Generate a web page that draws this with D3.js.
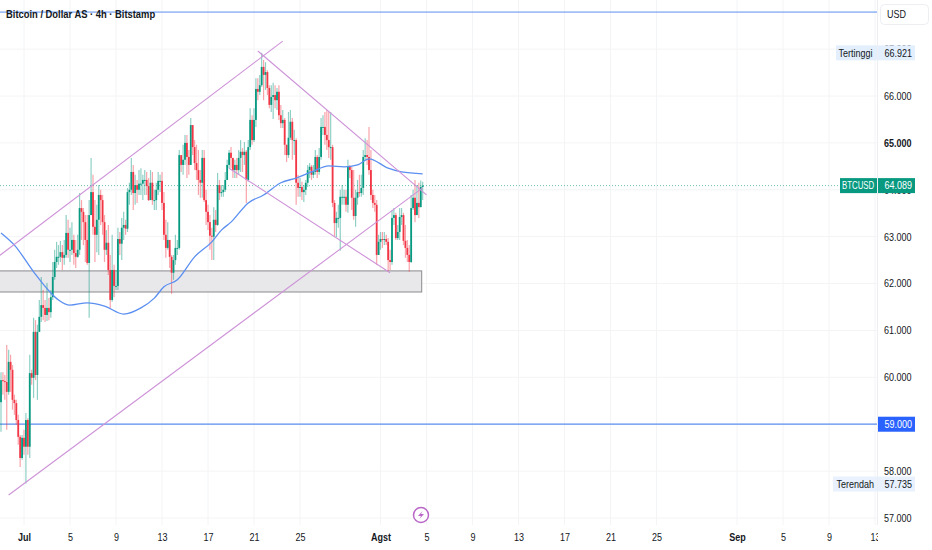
<!DOCTYPE html>
<html><head><meta charset="utf-8">
<script src="https://cdn.jsdelivr.net/npm/d3@7"></script>
<style>
html,body{margin:0;padding:0;background:#fff;overflow:hidden}
text{font-family:"Liberation Sans",Arial,sans-serif;fill:#131722}
</style></head><body><svg id="c" width="932" height="550"></svg>
<script>
const title = "Bitcoin / Dollar AS · 4h · Bitstamp";
const firstOpen = 59.47;
const closes = [59.94,59.92,59.90,59.69,60.33,60.16,59.52,59.45,59.09,58.73,58.28,58.71,58.52,59.09,58.52,60.09,59.99,60.97,60.05,60.97,
61.29,61.54,61.48,61.33,61.48,61.39,61.71,62.14,62.46,62.57,62.57,62.67,62.55,62.61,63.08,62.72,62.72,62.93,62.65,62.57,
62.72,63.61,63.53,63.31,62.93,62.44,63.46,63.95,63.21,63.04,63.36,63.89,63.78,63.31,62.72,62.87,62.29,61.65,62.29,61.95,
61.95,62.95,62.85,63.19,63.25,63.17,63.95,64.00,64.38,63.93,64.10,64.00,64.13,64.13,64.21,64.21,64.08,63.78,64.15,63.78,
63.78,64.00,64.19,64.19,63.72,63.04,62.76,62.93,62.57,62.23,62.50,62.76,62.76,64.74,64.53,64.64,65.00,64.70,64.53,65.38,
64.91,64.57,64.42,64.21,64.15,64.68,63.78,63.53,63.31,63.02,63.00,63.36,63.25,64.10,63.93,63.95,64.00,64.21,64.53,64.79,
64.68,64.42,64.53,64.42,64.68,64.81,64.74,64.81,64.21,64.91,65.49,65.06,65.49,66.15,66.09,66.23,66.62,66.45,66.51,66.17,
65.81,65.98,66.02,65.91,66.09,65.59,65.42,65.49,64.96,64.74,65.11,65.45,65.06,65.06,64.15,64.04,64.06,63.95,64.00,64.15,
64.42,64.49,64.32,64.38,64.70,64.38,64.70,65.34,65.34,65.17,65.06,64.91,64.91,63.72,63.29,63.40,63.40,63.85,63.85,63.85,
63.68,64.49,64.42,63.83,63.44,63.83,63.95,63.93,64.04,64.70,64.74,64.70,64.42,63.89,63.72,63.68,62.61,62.89,62.95,62.93,
62.95,62.89,62.50,62.46,63.40,63.46,62.97,63.10,63.42,63.46,62.91,62.76,62.61,62.46,63.61,63.83,63.46,63.72,63.63,64.06,64.089];
const highs = [60.11,60.11,60.05,60.69,60.59,60.48,60.26,59.63,59.52,59.20,58.77,58.77,58.88,59.24,59.13,60.48,60.16,61.27,61.22,61.12,
61.65,62.14,61.86,61.65,62.01,61.69,61.86,62.46,62.72,62.89,62.82,62.91,62.82,62.93,63.46,63.36,63.19,63.31,63.04,62.93,
63.04,63.93,63.78,63.61,63.46,63.46,63.78,64.68,64.32,63.78,63.68,64.10,64.00,63.89,63.46,63.14,63.25,62.61,63.04,62.40,
62.29,63.19,63.10,63.40,63.53,63.36,64.04,64.15,64.68,64.53,64.32,64.21,64.42,64.46,64.32,64.42,64.38,64.25,64.42,64.38,
64.00,64.15,64.38,64.32,64.38,63.95,63.36,63.31,62.82,62.61,62.61,63.04,62.93,64.85,64.70,64.96,65.17,65.17,64.85,65.53,
65.38,65.06,64.96,64.85,64.42,64.85,64.85,64.00,63.68,63.46,63.19,63.63,63.57,64.36,64.21,64.10,64.10,64.38,64.64,64.85,
64.91,64.64,64.64,64.68,64.85,65.06,64.89,65.02,64.85,65.06,65.74,65.59,65.74,66.38,66.38,66.45,66.921,66.77,66.72,66.55,
66.23,66.23,66.28,66.23,66.17,66.23,65.81,65.70,65.53,64.96,65.66,65.70,65.53,65.28,65.10,64.32,64.25,64.17,64.10,64.21,
64.53,64.57,64.53,64.53,64.85,64.74,64.89,65.53,65.59,65.66,65.70,65.66,65.66,64.96,63.78,63.53,63.68,64.00,64.10,64.00,
64.00,64.64,64.53,64.49,64.42,64.00,64.21,64.32,64.32,64.85,65.10,65.06,65.34,64.85,64.00,63.89,63.78,63.04,63.10,63.10,
63.10,63.04,62.97,62.72,63.57,63.61,63.51,63.25,63.61,63.61,63.51,63.25,62.93,62.82,63.89,64.00,64.21,64.10,64.15,64.20,64.17];
const lows = [58.84,59.63,59.52,58.88,59.63,59.69,59.31,59.20,58.99,58.56,58.09,58.24,58.35,57.735,58.35,58.28,59.84,59.56,59.94,59.52,
60.97,61.18,61.22,61.18,61.20,61.22,61.27,61.65,62.08,62.33,62.40,62.46,62.29,62.40,62.55,62.55,62.46,62.61,62.40,62.33,
62.55,62.61,62.93,62.82,62.46,62.40,61.27,63.46,63.04,62.46,62.67,62.61,63.25,63.04,62.46,62.61,62.18,61.48,61.61,61.71,
61.86,61.86,62.61,62.50,62.93,63.04,63.10,63.68,63.89,63.57,63.68,63.72,63.89,63.89,63.78,63.89,63.89,63.76,64.00,63.68,
63.57,63.57,63.89,63.95,63.57,62.93,62.55,62.72,62.33,61.78,62.08,62.40,62.61,62.72,64.38,64.32,64.53,64.25,64.32,64.53,
64.74,64.42,64.21,63.89,63.83,63.83,63.74,63.25,63.14,62.72,62.50,62.50,63.10,63.23,63.78,63.85,63.85,63.95,64.21,64.46,
64.46,64.25,64.25,64.25,64.32,64.38,64.38,64.53,63.72,64.17,64.85,64.96,65.02,65.34,65.91,66.02,66.19,65.91,66.13,66.02,
65.74,65.66,65.51,65.74,65.70,65.49,65.32,65.32,64.74,64.59,64.68,65.06,64.64,64.74,63.68,63.85,63.85,63.78,63.74,63.89,
64.06,64.25,64.21,64.25,64.32,64.25,64.32,64.64,65.17,64.96,64.85,64.68,64.64,63.63,62.99,62.99,63.19,62.70,63.68,63.68,
63.53,63.51,64.25,63.57,63.36,63.21,63.68,63.85,63.85,63.89,64.64,64.53,64.32,63.78,63.61,63.53,62.40,62.61,62.72,62.76,
62.82,62.82,62.25,62.29,62.40,63.25,62.93,62.93,62.93,63.25,62.82,62.55,62.46,62.25,62.44,63.57,63.31,63.46,63.40,63.63,63.78];
const maBars = [0,7,17,26,30,36,45,54,64,73,80,85,92,101,110,115,120,129,137,146,154,162,171,179,186,192,202,209,220];
const maValues = [63.08,62.82,62.25,61.80,61.65,61.54,61.59,61.52,61.35,61.48,61.69,61.93,62.08,62.57,62.89,63.14,63.31,63.72,63.89,64.15,64.25,64.38,64.51,64.49,64.53,64.66,64.46,64.38,64.34];
const channelUp = [[-1,62.59],[147,67.17]];
const channelLow = [[4,57.49],[220,64.04]];
const fallUp = [[134,66.96],[222,63.89]];
const fallLow = [[119,64.46],[203,62.23]];
const zone = {top:62.27,bottom:61.82,endBar:219.5};
const topLevel = 67.79, level = 59.0, lastPrice = 64.089;
const priceTicks = [57,58,59,60,61,62,63,64,65,66,67];
const dateTicks = ["2024-07-01","2024-07-05","2024-07-09","2024-07-13","2024-07-17","2024-07-21","2024-07-25","2024-08-01","2024-08-05","2024-08-09","2024-08-13","2024-08-17","2024-08-21","2024-08-25","2024-09-01","2024-09-05","2024-09-09","2024-09-13"];
const dateLabels = ["Jul","5","9","13","17","21","25","Agst","5","9","13","17","21","25","Sep","5","9","13"];
const boldDates = ["Jul","Agst","Sep"];

const W=877, B=525;
const svg=d3.select("#c");
const x=d3.scaleUtc().domain([new Date("2024-07-01T00:00Z"),new Date("2024-09-01T00:00Z")]).range([24,737]);
const y=d3.scaleLinear().domain([66,57]).range([96,518]);
const t0=Date.UTC(2024,5,29);
const bx=i=>x(new Date(t0+i*4*3600e3));
const fmt=v=>d3.format(".3f")(v);
const defs=svg.append("defs");
defs.append("clipPath").attr("id","plot").append("rect").attr("width",W).attr("height",B);
defs.append("clipPath").attr("id","tm").append("rect").attr("width",W+1).attr("height",550);

// grid
const g=svg.append("g").attr("clip-path","url(#plot)");
g.selectAll(".gv").data(dateTicks).join("line").attr("x1",d=>x(new Date(d+"T00:00Z"))).attr("x2",d=>x(new Date(d+"T00:00Z"))).attr("y1",0).attr("y2",B).attr("stroke","#f3f4f6");
g.selectAll(".gh").data(priceTicks).join("line").attr("x1",0).attr("x2",W).attr("y1",d=>y(d)).attr("y2",d=>y(d)).attr("stroke","#f3f4f6");
svg.append("line").attr("x1",W+.5).attr("x2",W+.5).attr("y1",0).attr("y2",B).attr("stroke","#eceef2");

// zone
g.append("rect").attr("x",-2).attr("y",y(zone.top)).attr("width",bx(zone.endBar)+2).attr("height",y(zone.bottom)-y(zone.top)).attr("fill","#e8e8eb").attr("stroke","#8a8a8e").attr("stroke-width",1);

// levels
g.append("line").attr("x1",0).attr("x2",W).attr("y1",y(topLevel)).attr("y2",y(topLevel)).attr("stroke","#5b8ff0").attr("stroke-width",1);
g.append("line").attr("x1",0).attr("x2",W).attr("y1",y(level)).attr("y2",y(level)).attr("stroke","#5b8ff0").attr("stroke-width",1.3);
g.append("line").attr("x1",0).attr("x2",W).attr("y1",y(lastPrice)).attr("y2",y(lastPrice)).attr("stroke","#089981").attr("stroke-width",1).attr("stroke-dasharray","1 2").attr("opacity",.6);

// candles
const opens=closes.map((c,i)=>i?closes[i-1]:firstOpen);
const bars=closes.map((c,i)=>({i,o:opens[i],c,h:highs[i],l:lows[i]}));
const col=d=>d.c>=d.o?"#089981":"#f23645";
g.selectAll(".w").data(bars).join("line").attr("x1",d=>bx(d.i)).attr("x2",d=>bx(d.i)).attr("y1",d=>y(d.h)).attr("y2",d=>y(d.l)).attr("stroke",col).attr("stroke-width",1.2).attr("opacity",.45);
g.selectAll(".b").data(bars).join("rect").attr("x",d=>bx(d.i)-.9).attr("width",1.8).attr("y",d=>y(Math.max(d.o,d.c))).attr("height",d=>Math.max(1,Math.abs(y(d.o)-y(d.c)))).attr("fill",col);

// MA
const line=d3.line().x(d=>bx(d[0])).y(d=>y(d[1])).curve(d3.curveMonotoneX);
g.append("path").attr("d",line(maBars.map((b,i)=>[b,maValues[i]]))).attr("fill","none").attr("stroke","#5b8ff0").attr("stroke-width",1.3);

// trend lines
const tl=d3.line().x(d=>bx(d[0])).y(d=>y(d[1]));
[channelUp,channelLow,fallUp,fallLow].forEach(p=>g.append("path").attr("d",tl(p)).attr("fill","none").attr("stroke","#ce93d8").attr("stroke-width",1.1));

// axes
const ay=d3.axisRight(y).tickValues(priceTicks).tickSize(0).tickPadding(0).tickFormat(fmt);
const ya=svg.append("g").attr("transform",`translate(884,0)`).call(ay);
ya.select(".domain").remove();
ya.selectAll("text").style("font-size","10.6px").attr("x",0).attr("fill","#131722").style("font-weight",d=>d===65?"700":"400");
const ax=d3.axisBottom(x).tickValues(dateTicks.map(d=>new Date(d+"T00:00Z"))).tickSize(0).tickPadding(0).tickFormat((d,i)=>dateLabels[i]);
const xa=svg.append("g").attr("clip-path","url(#tm)").attr("transform","translate(0,532)").call(ax);
xa.select(".domain").remove();
xa.selectAll("text").style("font-size","10.6px").attr("fill","#131722").attr("dy",".35em").attr("y",5).style("font-weight",(d,i)=>boldDates.includes(dateLabels[i])?"700":"400");

// title
svg.append("text").attr("class","wide").attr("x",6).attr("y",18).text(title).style("font-size","10.6px").style("font-weight","700");

// price tags
function tag(x0,x1,yc,fill,color,txt,tx,cls){
  svg.append("rect").attr("x",x0).attr("width",x1-x0).attr("y",yc-7.5).attr("height",15).attr("fill",fill);
  svg.append("text").attr("class",cls||null).attr("x",tx).attr("y",yc+3.8).text(txt).style("font-size","10.6px").style("fill",color);
}
tag(836,877,y(66.921),"#e3effd","#131722","Tertinggi",838.5);
tag(878,915,y(66.921),"#e3effd","#131722",fmt(66.921),884.5);
tag(840,877,y(lastPrice),"#089981","#fff","BTCUSD",842,"tight");
tag(878,915,y(lastPrice),"#089981","#fff",fmt(lastPrice),884.5);
tag(878,915,y(level),"#2962ff","#fff",fmt(level),884.5);
tag(833,877,484,"#e8f1fd","#131722","Terendah",836.5);
tag(878,915,484,"#e8f1fd","#131722",fmt(57.735),884.5);

// USD box
svg.append("rect").attr("x",880.5).attr("y",4.5).attr("width",48).attr("height",20).attr("rx",4).attr("fill","#fff").attr("stroke","#eceef2");
svg.append("text").attr("x",887).attr("y",18).text("USD").style("font-size","10.6px");

// event icon
const ic=svg.append("g").attr("transform","translate(421,515)");
ic.append("circle").attr("r",7.5).attr("fill","#fff").attr("stroke","#ba68c8").attr("stroke-width",1.5);
ic.append("path").attr("d","M1.5 -4 L-3 1 L0 1 L-1.5 4 L3 -1 L0 -1 Z").attr("fill","#ba68c8");

// the reference's face is narrower than any installed font: condense every label to the same measure
svg.selectAll("text").each(function(){
  const L=this.getComputedTextLength();
  const s=d3.select(this);
  const f=s.classed("wide")?0.885:s.classed("tight")?0.74:0.85;
  s.attr("textLength",L*f).attr("lengthAdjust","spacingAndGlyphs");
});
</script></body></html>
